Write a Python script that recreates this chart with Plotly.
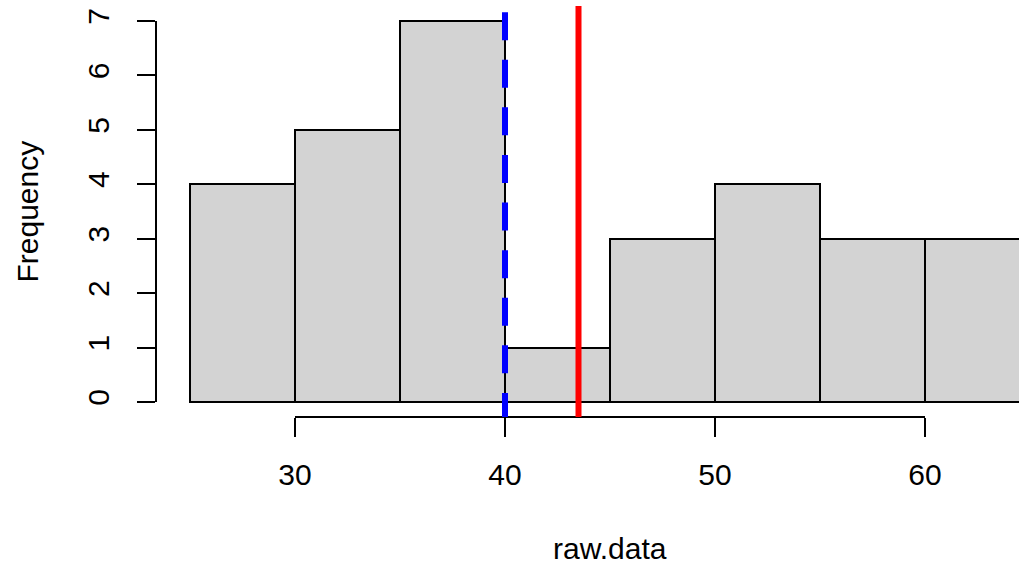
import plotly.graph_objects as go

# Histogram data (bins of width 5)
bin_starts = [25, 30, 35, 40, 45, 50, 55, 60]
bin_width = 5
counts = [4, 5, 7, 1, 3, 4, 3, 3]
mean_value = 43.5
median_value = 40
x_ticks = [30, 40, 50, 60]
y_ticks = [0, 1, 2, 3, 4, 5, 6, 7]
x_label = "raw.data"
y_label = "Frequency"

centers = [s + bin_width / 2 for s in bin_starts]
FONT = "Liberation Sans, Arial, sans-serif"

fig = go.Figure()
fig.add_trace(go.Bar(
    x=centers, y=counts, width=[bin_width] * len(counts),
    marker=dict(color="#D3D3D3", line=dict(color="black", width=2)),
    showlegend=False, hoverinfo="skip",
))

shapes = []
# y axis line (0..7)
shapes.append(dict(type="line", xref="paper", yref="y", x0=0, x1=0,
                   y0=min(y_ticks), y1=max(y_ticks), line=dict(color="black", width=2)))
# x axis line (30..60)
shapes.append(dict(type="line", xref="x", yref="paper", x0=min(x_ticks), x1=max(x_ticks),
                   y0=0, y1=0, line=dict(color="black", width=2)))
# median (blue dashed) and mean (red solid)
shapes.append(dict(type="line", xref="x", yref="paper", x0=median_value, x1=median_value,
                   y0=0.985, y1=0, line=dict(color="blue", width=6, dash="28px,19.6px")))
shapes.append(dict(type="line", xref="x", yref="paper", x0=mean_value, x1=mean_value,
                   y0=1, y1=0, line=dict(color="red", width=6)))

fig.update_layout(
    width=1019, height=567,
    margin=dict(l=156, r=0, t=6, b=150),
    paper_bgcolor="white", plot_bgcolor="white",
    bargap=0,
    shapes=shapes,
    font=dict(family=FONT, size=30, color="black"),
    xaxis=dict(range=[23.381, 64.476], tickvals=x_ticks, ticks="outside", ticklen=19,
               tickwidth=2, tickcolor="black", showgrid=False, zeroline=False,
               showline=False, tickfont=dict(size=30), ticklabelstandoff=12),
    yaxis=dict(range=[-0.2756, 7.275], tickvals=y_ticks, ticks="outside", ticklen=18,
               tickwidth=2, tickcolor="black", showgrid=False, zeroline=False,
               showline=False, tickangle=-90, tickfont=dict(size=30), ticklabelstandoff=16),
    annotations=[
        dict(text=x_label, xref="paper", yref="paper", x=0.5, y=0, yanchor="middle",
             xanchor="center", xshift=22.5, yshift=-131, borderpad=0,
             showarrow=False, font=dict(size=30)),
        dict(text=y_label, xref="paper", yref="paper", x=0, y=0.5, xanchor="center",
             yanchor="middle", xshift=-129, textangle=-90, showarrow=False, font=dict(size=30)),
    ],
)

fig.write_html("out.html")
